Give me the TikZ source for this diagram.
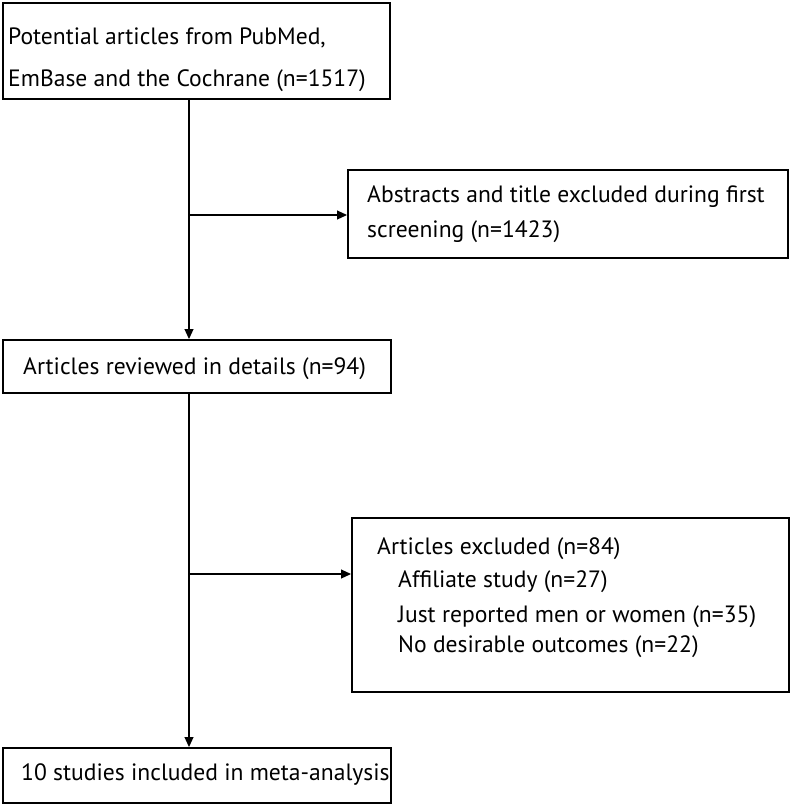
\documentclass[tikz,border=0pt]{standalone}
\usepackage{fontspec}
\setmainfont{PT Sans}
\usetikzlibrary{arrows.meta}
\begin{document}
\begin{tikzpicture}[x=1pt,y=-1pt,
  box/.style={draw, line width=1.6pt, inner sep=0pt, anchor=north west},
  txt/.style={anchor=base west, inner sep=0pt, font=\fontsize{23.6}{28}\selectfont},
  conn/.style={line width=1.1pt, -{Triangle[length=10pt,width=9pt]}}]
\useasboundingbox (0,0) rectangle (790,804);
% boxes
\node (b1) [box, minimum width=387pt, minimum height=96pt] at (2,2) {};
\node (b2) [box, minimum width=388pt, minimum height=53pt] at (2,339) {};
\node (b3) [box, minimum width=440pt, minimum height=88pt] at (347,169) {};
\node (b4) [box, minimum width=437pt, minimum height=174pt] at (351,517) {};
\node (b5) [box, minimum width=388pt, minimum height=55pt] at (2,747) {};
% texts
\node (t1a) [txt] at (8,44) {Potential articles from PubMed,};
\node (t1b) [txt] at (8,86) {EmBase and the Cochrane (n=1517)};
\node (t2) [txt] at (23,374) {Articles reviewed in details (n=94)};
\node (t3a) [txt] at (367,202) {Abstracts and title excluded during first};
\node (t3b) [txt] at (367,237) {screening (n=1423)};
\node (t4a) [txt] at (377,554) {Articles excluded (n=84)};
\node (t4b) [txt] at (398,587) {Affiliate study (n=27)};
\node (t4c) [txt] at (398,622) {Just reported men or women (n=35)};
\node (t4d) [txt] at (398,652) {No desirable outcomes (n=22)};
\node (t5) [txt] at (21,780) {10 studies included in meta-analysis};
% connectors
\coordinate (v) at (189,0);
\coordinate (h1) at (189,215);
\coordinate (h2) at (189,574);
\draw[conn] (b1.south -| v) -- (b2.north -| v);
\draw[conn] (h1) -- (h1 -| b3.west);
\draw[conn] (b2.south -| v) -- (b5.north -| v);
\draw[conn] (h2) -- (h2 -| b4.west);
\end{tikzpicture}
\end{document}
